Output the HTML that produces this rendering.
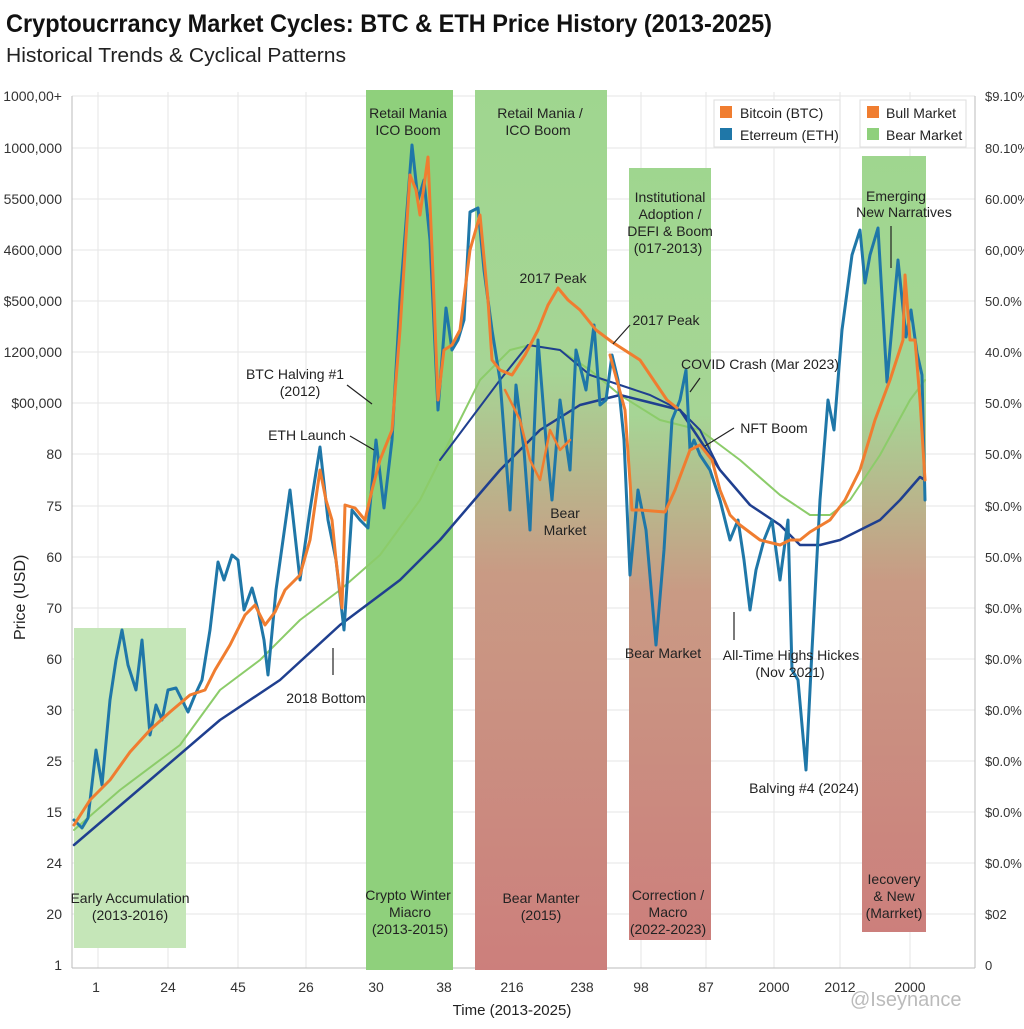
<!DOCTYPE html><html><head><meta charset="utf-8"><style>
body{margin:0;background:#fff}
svg text{font-family:"Liberation Sans",sans-serif}
</style></head><body>
<svg width="1024" height="1024" viewBox="0 0 1024 1024" xmlns="http://www.w3.org/2000/svg">
<defs>
<linearGradient id="gr" x1="0" y1="0" x2="0" y2="1">
<stop offset="0" stop-color="#9fd68f"/><stop offset="0.32" stop-color="#a6d595"/><stop offset="0.55" stop-color="#c99a84"/><stop offset="1" stop-color="#cc7f7c"/></linearGradient>
</defs>
<rect width="1024" height="1024" fill="#fff"/>
<text x="6" y="32" font-size="25" font-weight="bold" fill="#111" textLength="766" lengthAdjust="spacingAndGlyphs">Cryptoucrrancy Market Cycles: BTC &amp; ETH Price History (2013-2025)</text>
<text x="6" y="62" font-size="20" fill="#222" textLength="340" lengthAdjust="spacingAndGlyphs">Historical Trends &amp; Cyclical Patterns</text>
<g stroke="#e6e6e6" stroke-width="1">
<line x1="72" y1="96" x2="975" y2="96"/><line x1="72" y1="148" x2="975" y2="148"/><line x1="72" y1="199" x2="975" y2="199"/><line x1="72" y1="250" x2="975" y2="250"/><line x1="72" y1="301" x2="975" y2="301"/><line x1="72" y1="352" x2="975" y2="352"/><line x1="72" y1="403" x2="975" y2="403"/><line x1="72" y1="454" x2="975" y2="454"/><line x1="72" y1="506" x2="975" y2="506"/><line x1="72" y1="557" x2="975" y2="557"/><line x1="72" y1="608" x2="975" y2="608"/><line x1="72" y1="659" x2="975" y2="659"/><line x1="72" y1="710" x2="975" y2="710"/><line x1="72" y1="761" x2="975" y2="761"/><line x1="72" y1="812" x2="975" y2="812"/><line x1="72" y1="863" x2="975" y2="863"/><line x1="72" y1="914" x2="975" y2="914"/>
<line x1="98" y1="92" x2="98" y2="968"/><line x1="168" y1="92" x2="168" y2="968"/><line x1="238" y1="92" x2="238" y2="968"/><line x1="306" y1="92" x2="306" y2="968"/><line x1="376" y1="92" x2="376" y2="968"/><line x1="444" y1="92" x2="444" y2="968"/><line x1="512" y1="92" x2="512" y2="968"/><line x1="582" y1="92" x2="582" y2="968"/><line x1="641" y1="92" x2="641" y2="968"/><line x1="706" y1="92" x2="706" y2="968"/><line x1="774" y1="92" x2="774" y2="968"/><line x1="840" y1="92" x2="840" y2="968"/><line x1="910" y1="92" x2="910" y2="968"/>
</g>
<line x1="72" y1="96" x2="72" y2="968" stroke="#bbb"/>
<line x1="975" y1="96" x2="975" y2="968" stroke="#bbb"/>
<line x1="72" y1="968" x2="975" y2="968" stroke="#bbb"/>
<rect x="74" y="628" width="112" height="320" fill="#c5e6b8"/>
<rect x="366" y="90" width="87" height="880" fill="#8fd07c"/>
<rect x="475" y="90" width="132" height="880" fill="url(#gr)"/>
<rect x="629" y="168" width="82" height="772" fill="url(#gr)"/>
<rect x="862" y="156" width="64" height="776" fill="url(#gr)"/>
<g font-size="14" fill="#333" text-anchor="end">
<text x="62" y="101">1000,00+</text><text x="62" y="153">1000,000</text><text x="62" y="204">5500,000</text><text x="62" y="255">4600,000</text><text x="62" y="306">$500,000</text><text x="62" y="357">1200,000</text><text x="62" y="408">$00,000</text><text x="62" y="459">80</text><text x="62" y="511">75</text><text x="62" y="562">60</text><text x="62" y="613">70</text><text x="62" y="664">60</text><text x="62" y="715">30</text><text x="62" y="766">25</text><text x="62" y="817">15</text><text x="62" y="868">24</text><text x="62" y="919">20</text><text x="62" y="970">1</text>
</g>
<g font-size="13" fill="#333">
<text x="985" y="101">$9.10%</text><text x="985" y="153">80.10%</text><text x="985" y="204">60.00%</text><text x="985" y="255">60,00%</text><text x="985" y="306">50.0%</text><text x="985" y="357">40.0%</text><text x="985" y="408">50.0%</text><text x="985" y="459">50.0%</text><text x="985" y="511">$0.0%</text><text x="985" y="562">50.0%</text><text x="985" y="613">$0.0%</text><text x="985" y="664">$0.0%</text><text x="985" y="715">$0.0%</text><text x="985" y="766">$0.0%</text><text x="985" y="817">$0.0%</text><text x="985" y="868">$0.0%</text><text x="985" y="919">$02</text><text x="985" y="970">0</text>
</g>
<text transform="translate(25,640) rotate(-90)" font-size="16" fill="#222">Price (USD)</text>
<g font-size="14" fill="#333" text-anchor="middle">
<text x="96" y="992">1</text><text x="168" y="992">24</text><text x="238" y="992">45</text><text x="306" y="992">26</text><text x="376" y="992">30</text><text x="444" y="992">38</text><text x="512" y="992">216</text><text x="582" y="992">238</text><text x="641" y="992">98</text><text x="706" y="992">87</text><text x="774" y="992">2000</text><text x="840" y="992">2012</text><text x="910" y="992">2000</text>
</g>
<text x="512" y="1015" font-size="15" fill="#222" text-anchor="middle">Time (2013-2025)</text>
<g fill="none" stroke-linejoin="round" stroke-linecap="round">
<polyline stroke="#8ccc6a" stroke-width="2" points="74,830 120,790 180,745 220,690 260,660 300,620 340,590 380,555 420,500 450,440 480,380 510,350 530,345 560,350 590,370 620,395 660,420 700,430 740,460 780,495 810,515 830,515 850,500 880,455 910,400 925,380"/>
<polyline stroke="#1f3f8f" stroke-width="2.5" points="74,845 150,780 220,720 280,680 340,625 400,580 440,540 470,505 500,470 540,430 580,405 620,395 640,400 660,405 680,410 700,440 720,470 750,505 780,525 800,545 820,545 840,540 860,530 880,520 900,500 920,477 925,480"/>
<polyline stroke="#1f3f8f" stroke-width="2" points="440,460 470,420 500,380 528,345 560,350 590,375 620,385 650,395 680,410 700,430 720,470"/>
<polyline stroke="#1f77a8" stroke-width="3" points="74,820 82,828 88,818 96,750 102,785 110,700 116,660 122,630 128,665 136,690 142,640 150,735 156,705 162,720 168,690 176,688 182,700 188,712 195,695 202,680 210,630 218,562 224,580 232,555 238,560 244,610 252,588 258,610 264,640 268,675 276,590 290,490 300,580 310,510 320,447 328,520 336,560 344,630 352,510 360,520 368,528 376,440 384,508 392,440 400,300 412,145 418,200 424,180 430,240 438,410 446,308 452,350 458,340 464,320 470,212 478,208 484,270 492,330 500,380 510,510 516,385 524,450 530,530 538,340 546,440 552,500 560,400 570,470 576,350 586,390 594,325 600,405 606,400 612,355 618,380 624,440 630,575 638,490 646,530 656,645 664,550 672,420 680,400 686,370 690,450 694,440 700,455 710,470 720,500 730,540 738,520 744,560 750,610 756,570 764,540 772,520 780,580 788,520 792,670 798,680 806,770 812,650 820,500 828,400 834,430 842,330 852,255 860,230 865,283 870,255 878,228 887,382 898,260 906,337 911,310 917,353 922,375 925,500"/>
<polyline stroke="#f07d30" stroke-width="3" points="74,825 90,800 110,780 130,752 150,730 170,712 190,695 205,690 215,670 230,645 245,615 255,605 265,625 275,612 285,590 300,575 310,540 320,470 326,500 332,520 336,560 342,608 345,505 355,508 365,520 372,490 380,460 392,430 400,330 410,175 416,190 420,215 428,157 432,250 438,400 444,350 452,345 460,330 470,250 480,215 488,300 492,360 500,370 512,375 525,355 538,330 548,305 558,288 568,300 580,310 596,330 612,342 640,360 667,400 677,408"/>
<polyline stroke="#f07d30" stroke-width="3" points="610,355 625,410 632,510 640,510 665,512 675,490 690,450 700,445 712,460 720,490 730,515 740,525 760,540 780,545 790,540 800,540 810,532 830,520 845,500 860,470 875,420 890,380 903,340 905,275 910,340 915,340 920,400 925,480"/>
<polyline stroke="#f07d30" stroke-width="2.5" points="505,390 520,420 530,460 540,480 550,430 560,450 570,440"/>
</g>
<g font-size="14" fill="#222" text-anchor="middle">
<text x="408" y="118">Retail Mania</text><text x="408" y="135">ICO Boom</text>
<text x="540" y="118">Retail Mania /</text><text x="538" y="135">ICO Boom</text>
<text x="670" y="202">Institutional</text><text x="670" y="219">Adoption /</text><text x="670" y="236">DEFI &amp; Boom</text><text x="668" y="253">(017-2013)</text>
<text x="896" y="201">Emerging</text><text x="904" y="217">New Narratives</text>
<text x="553" y="283">2017 Peak</text>
<text x="666" y="325">2017 Peak</text>
<text x="760" y="369">COVID Crash (Mar 2023)</text>
<text x="774" y="433">NFT Boom</text>
<text x="295" y="379">BTC Halving #1</text><text x="300" y="396">(2012)</text>
<text x="307" y="440">ETH Launch</text>
<text x="565" y="518">Bear</text><text x="565" y="535">Market</text>
<text x="663" y="658">Bear Market</text>
<text x="791" y="660">All-Time Highs Hickes</text><text x="790" y="677">(Nov 2021)</text>
<text x="326" y="703">2018 Bottom</text>
<text x="804" y="793">Balving #4 (2024)</text>
<text x="130" y="903">Early Accumulation</text><text x="130" y="920">(2013-2016)</text>
<text x="408" y="900">Crypto Winter</text><text x="410" y="917">Miacro</text><text x="410" y="934">(2013-2015)</text>
<text x="541" y="903">Bear Manter</text><text x="541" y="920">(2015)</text>
<text x="668" y="900">Correction /</text><text x="668" y="917">Macro</text><text x="668" y="934">(2022-2023)</text>
<text x="894" y="884">Iecovery</text><text x="894" y="901">&amp; New</text><text x="894" y="918">(Marrket)</text>
</g>
<g stroke="#222" stroke-width="1.2" fill="none">
<line x1="347" y1="385" x2="372" y2="404"/><line x1="350" y1="436" x2="374" y2="450"/>
<line x1="630" y1="325" x2="613" y2="344"/><line x1="700" y1="378" x2="690" y2="392"/>
<line x1="734" y1="428" x2="705" y2="446"/><line x1="891" y1="226" x2="891" y2="268"/>
<line x1="333" y1="675" x2="333" y2="648"/><line x1="734" y1="640" x2="734" y2="612"/>
</g>
<rect x="714" y="100" width="126" height="47" fill="#fff" stroke="#ddd"/>
<rect x="720" y="106" width="12" height="12" fill="#f07d30"/><text x="740" y="118" font-size="14" fill="#222">Bitcoin (BTC)</text>
<rect x="720" y="128" width="12" height="12" fill="#1f77a8"/><text x="740" y="140" font-size="14" fill="#222">Eterreum (ETH)</text>
<rect x="860" y="100" width="106" height="47" fill="#fff" stroke="#ddd"/>
<rect x="867" y="106" width="12" height="12" fill="#f07d30"/><text x="886" y="118" font-size="14" fill="#222">Bull Market</text>
<rect x="867" y="128" width="12" height="12" fill="#8fd07c"/><text x="886" y="140" font-size="14" fill="#222">Bear Market</text>
<text x="850" y="1006" font-size="20" fill="#bbb">@Iseynance</text>
</svg>
</body></html>
